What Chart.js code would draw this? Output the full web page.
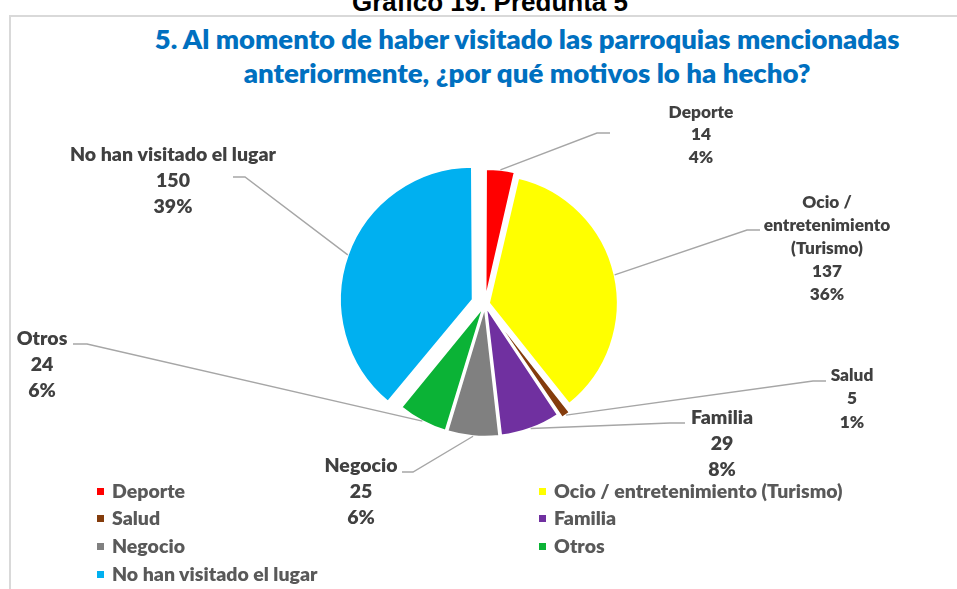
<!DOCTYPE html>
<html>
<head>
<meta charset="utf-8">
<script src="https://cdn.jsdelivr.net/npm/chart.js@4.4.1/dist/chart.umd.min.js"></script>
<style>
    html, body { margin: 0; padding: 0; background: #fff; }
    #wrap { position: relative; width: 957px; height: 589px; overflow: hidden; font-family: Lato, "Open Sans", sans-serif; }
    #frame { position: absolute; left: 9px; top: 15px; width: 1000px; height: 700px; border-left: 2px solid #d9d9d9; border-top: 2px solid #d9d9d9; }
    #header { position: absolute; left: 0; top: 0; width: 980px; height: 11px; overflow: hidden; }
    #header div { position: absolute; left: 0; top: -11px; width: 980px; text-align: center; font: bold 26px "Liberation Sans", Arial, sans-serif; line-height: 26px; color: #000; }
    .tline { position: absolute; left: 0; width: 1054px; text-align: center; color: #0070c0; font-weight: 800; font-size: 27px; line-height: 30px; }
    .tline span { display: inline-block; transform-origin: 50% 50%; white-space: nowrap; }
    canvas { position: absolute; left: 0; top: 0; }
    .leg { position: absolute; height: 20px; line-height: 20px; display: flex; align-items: center; color: #595959; font-weight: 800; font-size: 19.5px; white-space: nowrap; }
    .leg i { display: inline-block; width: 7px; height: 7px; margin-right: 8px; }
</style>
</head>
<body>
<div id="wrap">
    <div id="frame"></div>
    <div id="header"><div>Gráfico 19. Pregunta 5</div></div>
    <div class="tline" style="top:24px"><span data-w="745">5. Al momento de haber visitado las parroquias mencionadas</span></div>
    <div class="tline" style="top:58px"><span data-w="567">anteriormente, ¿por qué motivos lo ha hecho?</span></div>
    <canvas id="pie" width="957" height="589"></canvas>
    <div id="legend"></div>
</div>
<script>
// Values
const categories = [
    "Deporte",
    "Ocio / entretenimiento (Turismo)",
    "Salud",
    "Familia",
    "Negocio",
    "Otros",
    "No han visitado el lugar"
];
const counts = [14, 137, 5, 29, 25, 24, 150];
const percents = [4, 36, 1, 8, 6, 6, 39];
const colors = ["#ff0000", "#ffff00", "#843c0c", "#7030a0", "#808080", "#0bb336", "#00b0f0"];

// How far each slice is pulled out (px)
const explode = [4, 4, 5, 3, 3, 3, 13];

// Where each data label sits, and the bend of its leader line
const labelLayout = [
    { x: 701, y: 112, size: 17.3, lh: 22.5, bend: [597, 133], end: [610, 133] },
    { x: 827, y: 202, size: 17.3, lh: 23, bend: [747, 230], end: [760, 230],
      lines: ["Ocio /", "entretenimiento", "(Turismo)"] },
    { x: 852, y: 375, size: 17.3, lh: 23.5, bend: [813, 381], end: [826, 381] },
    { x: 722, y: 418, size: 19.5, lh: 26, bend: [670, 423], end: [685, 423] },
    { x: 361, y: 466, size: 19.5, lh: 26, bend: [413, 472], end: [402, 472] },
    { x: 42, y: 339, size: 19.5, lh: 26, bend: [87, 344], end: [73, 344] },
    { x: 173, y: 155, size: 19.5, lh: 26, bend: [245, 177], end: [233, 177] }
];

// Chart.js v4 moves an arc by offset / 4
const offsets = explode.map(t => t * 4);

const leaderPlugin = {
    id: "leaders",
    afterDatasetsDraw(chart) {
        const ctx = chart.ctx;
        const meta = chart.getDatasetMeta(0);
        ctx.save();
        meta.data.forEach((arc, i) => {
            const p = arc.getProps(["x", "y", "startAngle", "endAngle", "outerRadius", "circumference"], true);
            const mid = (p.startAngle + p.endAngle) / 2;
            const t = explode[i];
            const fix = 1 - Math.sin(Math.min(Math.PI, p.circumference));
            const r = p.outerRadius + t * fix + t;
            const sx = p.x + Math.cos(mid) * r;
            const sy = p.y + Math.sin(mid) * r;
            const lay = labelLayout[i];

            ctx.strokeStyle = "#a6a6a6";
            ctx.lineWidth = 1.4;
            ctx.beginPath();
            ctx.moveTo(sx, sy);
            ctx.lineTo(lay.bend[0], lay.bend[1]);
            ctx.lineTo(lay.end[0], lay.end[1]);
            ctx.stroke();

            const lines = (lay.lines || [categories[i]]).concat([String(counts[i]), percents[i] + "%"]);
            ctx.fillStyle = "#404040";
            ctx.font = `800 ${lay.size}px Lato, "Open Sans", sans-serif`;
            ctx.textAlign = "center";
            ctx.textBaseline = "middle";
            lines.forEach((txt, k) => ctx.fillText(txt, lay.x, lay.y + k * lay.lh));
        });
        ctx.restore();
    }
};

new Chart(document.getElementById("pie"), {
    type: "pie",
    data: {
        labels: categories,
        datasets: [{
            data: counts,
            backgroundColor: colors,
            borderColor: "#ffffff",
            borderWidth: 2,
            offset: offsets,
            clip: false
        }]
    },
    options: {
        responsive: false,
        animation: false,
        events: [],
        radius: 128,
        layout: { padding: { left: 325, right: 312, top: 144, bottom: 125 } },
        plugins: {
            legend: { display: false },
            tooltip: { enabled: false },
            title: { display: false }
        }
    },
    plugins: [leaderPlugin]
});

// Legend in two columns, row by row
const legendBox = document.getElementById("legend");
const colX = [97, 539];
const rowY = [491, 518, 546, 574];
categories.forEach((name, i) => {
    const el = document.createElement("div");
    el.className = "leg";
    el.style.left = colX[i % 2] + "px";
    el.style.top = (rowY[Math.floor(i / 2)] - 10) + "px";
    el.innerHTML = `<i style="background:${colors[i]}"></i>${name}`;
    legendBox.appendChild(el);
});

// Fit the title lines to the width they have in the original
document.querySelectorAll(".tline span").forEach(s => {
    const w = s.getBoundingClientRect().width;
    const target = +s.dataset.w;
    if (w > 0) s.style.transform = `scaleX(${(target / w).toFixed(3)})`;
});
</script>
</body>
</html>
